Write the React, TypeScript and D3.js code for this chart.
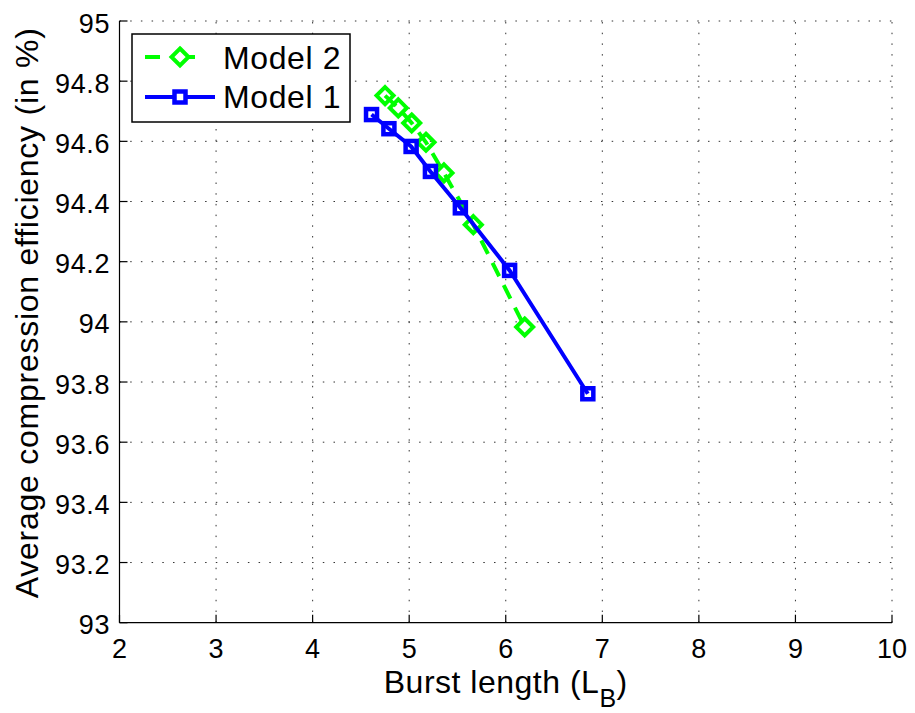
import React from "react";
import * as d3 from "d3";

const model1X = [4.61, 4.79, 5.02, 5.22, 5.53, 6.04, 6.85];
const model1Y = [94.689, 94.642, 94.583, 94.5, 94.379, 94.171, 93.761];
const model2X = [4.75, 4.887, 5.026, 5.174, 5.36, 5.664, 6.196];
const model2Y = [94.752, 94.711, 94.661, 94.597, 94.495, 94.323, 93.983];
const xTicks = [2, 3, 4, 5, 6, 7, 8, 9, 10];
const yTicks = [93, 93.2, 93.4, 93.6, 93.8, 94, 94.2, 94.4, 94.6, 94.8, 95];
const seriesNames = ["Model 2", "Model 1"];

const W = 915;
const H = 713;
const L = 119.5;
const R = 892;
const T = 21;
const B = 622.7;
const FONT = "'Liberation Sans', Arial, Helvetica, sans-serif";

export default function App() {
  const x = d3.scaleLinear().domain([2, 10]).range([L, R]);
  const y = d3.scaleLinear().domain([93, 95]).range([B, T]);
  const line = d3
    .line<[number, number]>()
    .x((d) => x(d[0]))
    .y((d) => y(d[1]));
  const m1: [number, number][] = model1X.map((v, i) => [v, model1Y[i]]);
  const m2: [number, number][] = model2X.map((v, i) => [v, model2Y[i]]);
  const blue = "#0000ff";
  const green = "#00ff00";
  const gridStyle = { stroke: "#333", strokeWidth: 1, strokeDasharray: "1.5 9.2" };
  const diamond = (cx: number, cy: number, r: number) =>
    `M${cx},${cy - r}L${cx + r},${cy}L${cx},${cy + r}L${cx - r},${cy}Z`;

  return (
    <div style={{ position: "fixed", left: 0, top: 0, background: "#fff" }}>
      <svg width={W} height={H} style={{ display: "block" }}>
        <rect x={0} y={0} width={W} height={H} fill="#fff" />
        {/* grid */}
        {xTicks.slice(1).map((t) => (
          <line key={"gx" + t} x1={x(t)} x2={x(t)} y1={B} y2={T} style={gridStyle} />
        ))}
        {yTicks.slice(1).map((t) => (
          <line key={"gy" + t} x1={L} x2={R} y1={y(t)} y2={y(t)} style={gridStyle} />
        ))}
        {/* axes */}
        <line x1={L} x2={L} y1={T} y2={B} stroke="#000" strokeWidth={1.2} />
        <line x1={L} x2={R} y1={B} y2={B} stroke="#000" strokeWidth={1.2} />
        {xTicks.map((t) => (
          <g key={"xt" + t}>
            <line x1={x(t)} x2={x(t)} y1={B} y2={B - 8} stroke="#000" strokeWidth={1.2} />
            <text
              x={x(t)}
              y={657.5}
              textAnchor="middle"
              fontFamily={FONT}
              fontSize={27}
              fill="#000"
            >
              {t}
            </text>
          </g>
        ))}
        {yTicks.map((t) => (
          <g key={"yt" + t}>
            <line x1={L} x2={L + 8} y1={y(t)} y2={y(t)} stroke="#000" strokeWidth={1.2} />
            <text
              x={110}
              y={y(t) + 11.5}
              textAnchor="end"
              fontFamily={FONT}
              fontSize={27}
              letterSpacing={0.6}
              fill="#000"
            >
              {d3.format("")(+t.toFixed(1))}
            </text>
          </g>
        ))}
        {/* axis labels */}
        <text
          x={(L + R) / 2}
          y={692.5}
          textAnchor="middle"
          fontFamily={FONT}
          fontSize={32}
          letterSpacing={0.5}
          fill="#000"
        >
          Burst length (L
          <tspan fontSize={25} dy={14}>
            B
          </tspan>
          <tspan dy={-14}>)</tspan>
        </text>
        <text
          transform={`translate(38,${(T + B) / 2 - 9}) rotate(-90)`}
          textAnchor="middle"
          fontFamily={FONT}
          fontSize={32}
          letterSpacing={0.75}
          fill="#000"
        >
          Average compression efficiency (in %)
        </text>
        {/* Model 2 */}
        <path
          d={line(m2) || ""}
          fill="none"
          stroke={green}
          strokeWidth={4}
          strokeDasharray="15 10"
        />
        {m2.map((d, i) => (
          <path
            key={"m2" + i}
            d={diamond(x(d[0]), y(d[1]), 8.5)}
            fill="none"
            stroke={green}
            strokeWidth={4}
          />
        ))}
        {/* Model 1 */}
        <path d={line(m1) || ""} fill="none" stroke={blue} strokeWidth={4} />
        {m1.map((d, i) => (
          <rect
            key={"m1" + i}
            x={x(d[0]) - 5.5}
            y={y(d[1]) - 5.5}
            width={11}
            height={11}
            fill="none"
            stroke={blue}
            strokeWidth={4.5}
          />
        ))}
        {/* legend */}
        <rect x={132} y={34} width={218} height={88} fill="#fff" stroke="#000" strokeWidth={1.5} />
        <line x1={145} x2={215} y1={57} y2={57} stroke={green} strokeWidth={4} strokeDasharray="15 20" />
        <path d={diamond(180, 57, 8.5)} fill="#fff" stroke={green} strokeWidth={4} />
        <line x1={145} x2={215} y1={97} y2={97} stroke={blue} strokeWidth={4} />
        <rect x={174.5} y={91.5} width={11} height={11} fill="#fff" stroke={blue} strokeWidth={4.5} />
        <text x={223} y={69} fontFamily={FONT} fontSize={32} letterSpacing={0.6} fill="#000">
          {seriesNames[0]}
        </text>
        <text x={223} y={108} fontFamily={FONT} fontSize={32} letterSpacing={0.6} fill="#000">
          {seriesNames[1]}
        </text>
      </svg>
    </div>
  );
}
